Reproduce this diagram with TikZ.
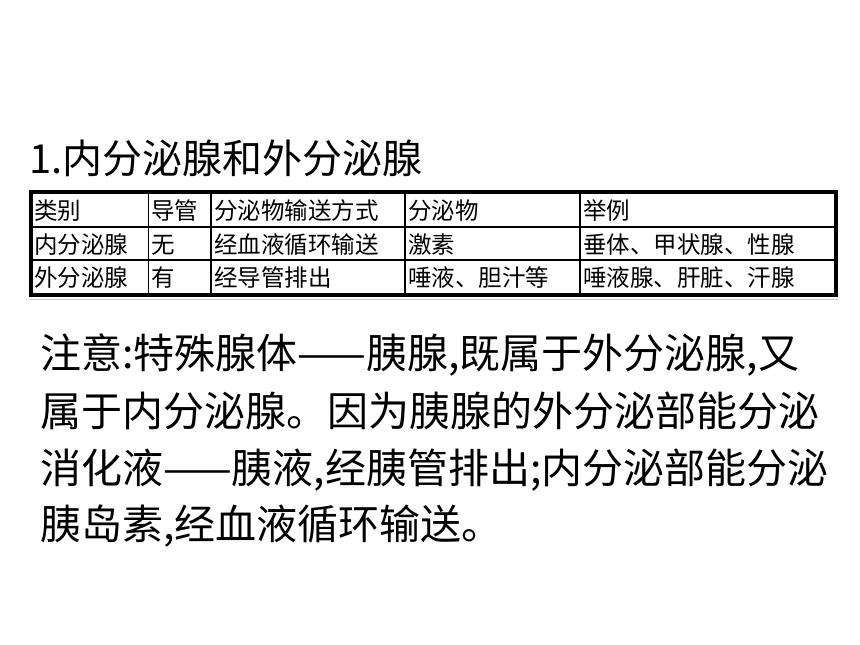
\documentclass[tikz,border=0pt]{standalone}
\usepackage{fontspec}
\setmainfont{Noto Sans CJK SC}
\begin{document}
\begin{tikzpicture}[x=1pt,y=-1pt]
\useasboundingbox (0,0) rectangle (860,645);
\fill[white] (0,0) rectangle (860,645);

% 标题
\node[anchor=base west, inner sep=0pt, font=\fontsize{40}{40}\selectfont] (title) at (29,173) {1.内分泌腺和外分泌腺};

% 表格线
\draw[gray!45, line width=1.5pt] (29,299.5) -- (838,299.5);
\draw[line width=1.5pt] (31,227) -- (836,227);
\draw[line width=1.5pt] (31,260) -- (836,260);
\foreach \cx in {148.5,211,405,580}
    \draw[line width=1.5pt] (\cx,192) -- (\cx,295);
\draw[line width=4pt] (31,192) rectangle (836,295);

\begin{scope}[every node/.style={anchor=base west, inner sep=0pt, font=\fontsize{23.5}{23.5}\selectfont}]
    % 表头
    \node (h1) at (34,219) {类别};
    \node (h2) at (151,219) {导管};
    \node (h3) at (214,219) {分泌物输送方式};
    \node (h4) at (408,219) {分泌物};
    \node (h5) at (583,219) {举例};
    % 内分泌腺
    \node (n1) at (34,253) {内分泌腺};
    \node (n2) at (151,253) {无};
    \node (n3) at (214,253) {经血液循环输送};
    \node (n4) at (408,253) {激素};
    \node (n5) at (583,253) {垂体、甲状腺、性腺};
    % 外分泌腺
    \node (w1) at (34,286) {外分泌腺};
    \node (w2) at (151,286) {有};
    \node (w3) at (214,286) {经导管排出};
    \node (w4) at (408,286) {唾液、胆汁等};
    \node (w5) at (583,286) {唾液腺、肝脏、汗腺};
\end{scope}

% 注意
\begin{scope}[every node/.style={anchor=base west, inner sep=0pt, font=\fontsize{41}{41}\selectfont}]
    \node (L1) at (40,368) {注意:特殊腺体——胰腺,既属于外分泌腺,又};
    \node (L2) at (40,426) {属于内分泌腺。因为胰腺的外分泌部能分泌};
    \node (L3) at (40,483) {消化液——胰液,经胰管排出;内分泌部能分泌};
    \node (L4) at (40,539) {胰岛素,经血液循环输送。};
\end{scope}
\end{tikzpicture}
\end{document}
